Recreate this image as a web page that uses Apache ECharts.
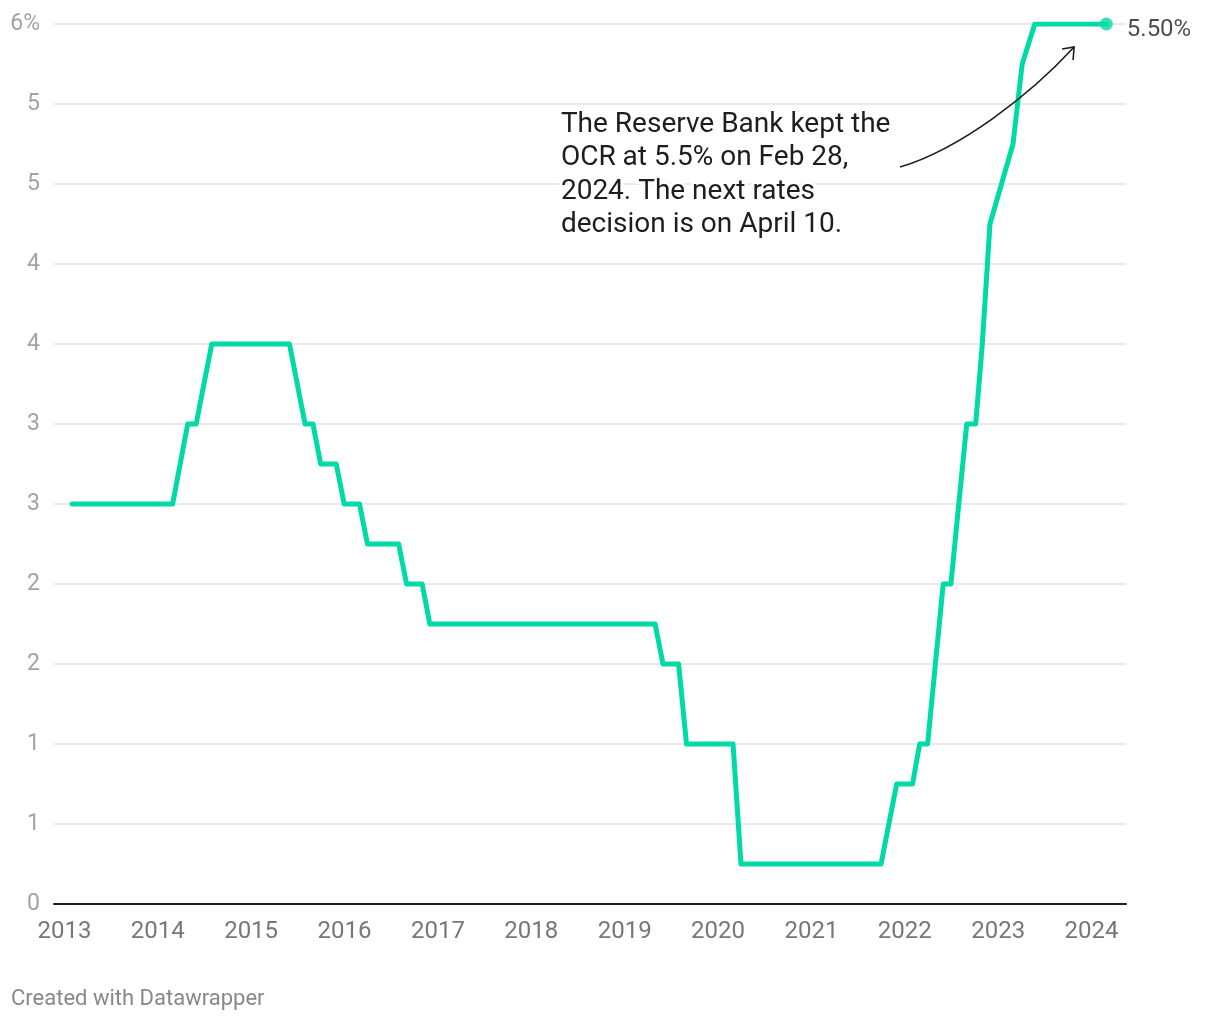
<!DOCTYPE html>
<html><head><meta charset="utf-8">
<script src="https://cdn.jsdelivr.net/npm/echarts@6/dist/echarts.min.js"></script>
<style>html,body{margin:0;padding:0;background:#fff}#c{width:1220px;height:1020px}</style>
</head><body><div id="c"></div>
<script>
// ---- data ----
const dates = ['2013-01-31','2014-02-28','2014-04-28','2014-05-31','2014-07-31','2015-05-31','2015-07-31','2015-08-31','2015-09-30','2015-11-30','2015-12-31','2016-02-29','2016-03-31','2016-07-31','2016-08-31','2016-10-31','2016-11-30','2019-04-30','2019-05-31','2019-07-31','2019-08-31','2020-02-29','2020-03-31','2021-09-30','2021-11-30','2022-01-31','2022-02-28','2022-03-31','2022-05-31','2022-06-30','2022-08-31','2022-10-05','2022-10-31','2022-11-30','2023-02-28','2023-04-05','2023-05-24','2024-02-28'];
const rates = [2.5,2.5,3.0,3.0,3.5,3.5,3.0,3.0,2.75,2.75,2.5,2.5,2.25,2.25,2.0,2.0,1.75,1.75,1.5,1.5,1.0,1.0,0.25,0.25,0.75,0.75,1.0,1.0,2.0,2.0,3.0,3.0,3.5,4.25,4.75,5.25,5.5,5.5];
const yTickLabels = ['0','1','1','2','2','3','3','4','4','5','5','6%'];
const xTickLabels = ['2013','2014','2015','2016','2017','2018','2019','2020','2021','2022','2023','2024'];
const annotationText = 'The Reserve Bank kept the\nOCR at 5.5% on Feb 28,\n2024. The next rates\ndecision is on April 10.';
const annotationAnchor = ['2018-04-15', 4.977];
const arrowFrom = ['2021-12-13', 4.606];
const arrowTo = ['2023-10-25', 5.356];
const creditText = 'Created with Datawrapper';

const seriesData = dates.map((d, i) => [d, rates[i]]);
const last = seriesData[seriesData.length - 1];
const FONT = 'Roboto, "Noto Sans", sans-serif';
const GREEN = '#00dba6';

const chart = echarts.init(document.getElementById('c'), null, {renderer: 'canvas'});
chart.setOption({
  backgroundColor: '#fff',
  animation: false,
  textStyle: {fontFamily: FONT},
  grid: {left: 54, right: 94, top: 24, bottom: 116, containLabel: false, outerBoundsMode: 'none'},
  xAxis: {
    type: 'time',
    min: '2012-11-21', max: '2024-05-15',
    splitNumber: 11,
    minInterval: 365 * 86400000,
    axisLine: {show: true, lineStyle: {color: '#1d1d1d', width: 2}},
    axisTick: {show: false},
    splitLine: {show: false},
    axisLabel: {
      color: '#777', fontSize: 24, fontFamily: FONT, margin: 16,
      formatter: function (v) {
        const d = new Date(v);
        if (d.getMonth() !== 0 || d.getDate() !== 1) return '';
        const s = String(d.getFullYear());
        return xTickLabels.indexOf(s) >= 0 ? s : '';
      }
    }
  },
  yAxis: {
    type: 'value', min: 0, max: 5.5, interval: 0.5,
    axisLine: {show: false}, axisTick: {show: false},
    splitLine: {show: true, lineStyle: {color: '#e3e3e3', width: 1.5}},
    axisLabel: {
      color: '#a3a3a3', fontSize: 23, fontFamily: FONT, margin: 14,
      formatter: function (v) { return yTickLabels[Math.round(v / 0.5)]; }
    }
  },
  series: [{
    type: 'line',
    data: seriesData,
    showSymbol: false,
    lineStyle: {color: GREEN, width: 5, cap: 'round', join: 'round'},
    z: 3
  }, {
    type: 'scatter',
    data: [last],
    symbolSize: 13,
    itemStyle: {color: GREEN},
    label: {
      show: true, position: 'right', distance: 14,
      formatter: p => p.value[1].toFixed(2) + '%',
      color: '#1d1d1d', fontSize: 24, fontFamily: FONT, offset: [0, 6],
      textBorderWidth: 0
    },
    z: 4
  }]
});

const ta = chart.convertToPixel({gridIndex: 0}, annotationAnchor);
const p0 = chart.convertToPixel({gridIndex: 0}, arrowFrom);
const p3 = chart.convertToPixel({gridIndex: 0}, arrowTo);
const c1 = [p0[0] + 60, p0[1] - 18];
const c2 = [p3[0] - 44, p3[1] + 48];

chart.setOption({
  graphic: [
    {
      type: 'text', left: ta[0], top: ta[1], z: 10,
      style: {text: annotationText, fontSize: 28, lineHeight: 33.5, fontFamily: FONT,
        fill: '#1d1d1d', stroke: '#fff', lineWidth: 6}
    },
    {
      type: 'bezierCurve', z: 10,
      shape: {x1: p0[0], y1: p0[1], x2: p3[0], y2: p3[1], cpx1: c1[0], cpy1: c1[1], cpx2: c2[0], cpy2: c2[1]},
      style: {stroke: '#1d1d1d', lineWidth: 1.6, fill: null}
    },
    {
      type: 'polyline', z: 10,
      shape: {points: [[p3[0] - 12, p3[1] + 2], [p3[0], p3[1]], [p3[0] - 1, p3[1] + 13]]},
      style: {stroke: '#1d1d1d', lineWidth: 1.6, fill: null}
    },
    {
      type: 'text', left: 11, top: 988,
      style: {text: creditText, fontSize: 22, fontFamily: FONT, fill: '#888'}
    }
  ]
});
</script>
</body></html>
